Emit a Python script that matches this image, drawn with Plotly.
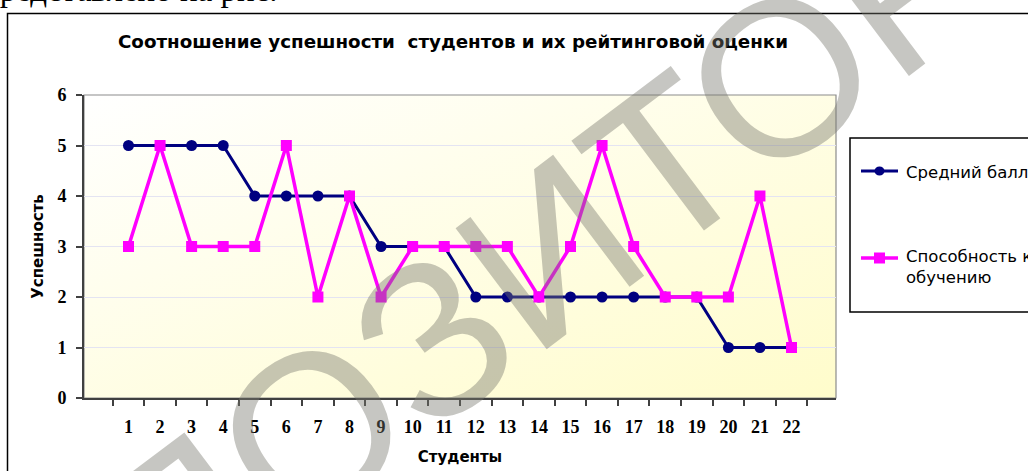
import base64
import plotly.graph_objects as go

# ---- data ----
students = ["1", "2", "3", "4", "5", "6", "7", "8", "9", "10", "11",
            "12", "13", "14", "15", "16", "17", "18", "19", "20", "21", "22"]
avg_grade = [5, 5, 5, 5, 4, 4, 4, 4, 3, 3, 3, 2, 2, 2, 2, 2, 2, 2, 2, 1, 1, 1]
learning_ability = [3, 5, 3, 3, 3, 5, 2, 4, 2, 3, 3, 3, 3, 2, 3, 5, 3, 2, 2, 2, 4, 1]
series_names = ["Средний балл", "Способность к<br>обучению"]
y_ticks = [0, 1, 2, 3, 4, 5, 6]

title_text = "Соотношение успешности\u00a0 студентов и их рейтинговой оценки"
x_title = "Студенты"
y_title = "Успешность"
watermark = "РЕПОЗИТОРИЙ"
page_text = "представлено на рис."

# ---- layout geometry (pixels) ----
W, H = 1028, 471
L, R, T, B = 84, 836, 95, 398
PW, PH = R - L, B - T


def px(xp):
    return (xp - L) / PW


def py(yp):
    return (B - yp) / PH


NAVY = "#000080"
MAGENTA = "#FF00FF"
SANS_B = "DejaVu Sans, Arial"
SERIF = "Liberation Serif, Times New Roman"

fig = go.Figure()
fig.add_trace(go.Scatter(
    x=students, y=avg_grade, mode="lines+markers", name=series_names[0],
    line=dict(color=NAVY, width=3),
    marker=dict(symbol="circle", size=11, color=NAVY),
    showlegend=False,
))
fig.add_trace(go.Scatter(
    x=students, y=learning_ability, mode="lines+markers", name=series_names[1],
    line=dict(color=MAGENTA, width=3.5),
    marker=dict(symbol="square", size=11, color=MAGENTA),
    showlegend=False,
))

# gradient plot background as an SVG image
svg = ('<svg xmlns="http://www.w3.org/2000/svg" width="100" height="100" preserveAspectRatio="none">'
       '<defs><linearGradient id="g" x1="0" y1="0" x2="1" y2="1">'
       '<stop offset="0" stop-color="#FFFFFF"/><stop offset="1" stop-color="#FFFCCB"/>'
       '</linearGradient></defs><rect width="100" height="100" fill="url(#g)"/></svg>')
src = "data:image/svg+xml;base64," + base64.b64encode(svg.encode()).decode()

shapes = []
shapes.append(dict(type="rect", xref="paper", yref="paper", x0=0, x1=1, y0=0, y1=1,
                   line=dict(color="#8C8C8C", width=1.2), layer="below"))
# outer chart border
shapes.append(dict(type="rect", xref="paper", yref="paper",
                   x0=px(7.5), x1=px(1060), y0=py(500), y1=py(13.5),
                   line=dict(color="#000000", width=1.5)))
# legend box
shapes.append(dict(type="rect", xref="paper", yref="paper",
                   x0=px(850), x1=px(1060), y0=py(312), y1=py(138),
                   line=dict(color="#000000", width=1.5), fillcolor="white"))
# legend samples
for yy, col in [(171, NAVY), (258, MAGENTA)]:
    shapes.append(dict(type="line", xref="paper", yref="paper",
                       x0=px(861), x1=px(898), y0=py(yy), y1=py(yy),
                       line=dict(color=col, width=3 if col == NAVY else 3.5)))
shapes.append(dict(type="circle", xref="paper", yref="paper",
                   xsizemode="pixel", ysizemode="pixel",
                   xanchor=px(879.5), yanchor=py(171), x0=-5, x1=5, y0=-4.5, y1=4.5,
                   fillcolor=NAVY, line=dict(color=NAVY, width=0)))
shapes.append(dict(type="rect", xref="paper", yref="paper",
                   xsizemode="pixel", ysizemode="pixel",
                   xanchor=px(879.5), yanchor=py(258), x0=-5.5, x1=5.5, y0=-5.5, y1=5.5,
                   fillcolor=MAGENTA, line=dict(color=MAGENTA, width=0)))

annotations = [
    dict(text=series_names[0], xref="paper", yref="paper", x=px(904), y=py(172),
         xanchor="left", yanchor="middle", showarrow=False, align="left",
         font=dict(family="DejaVu Sans, Arial", size=16.5, color="black")),
    dict(text=series_names[1], xref="paper", yref="paper", x=px(904), y=py(267),
         xanchor="left", yanchor="middle", showarrow=False, align="left",
         font=dict(family="DejaVu Sans, Arial", size=16.5, color="black")),
    dict(text=page_text, xref="paper", yref="paper", x=px(280), y=py(10),
         xanchor="right", yanchor="bottom", showarrow=False,
         font=dict(family=SERIF, size=33, color="black")),
    dict(text=watermark, xref="paper", yref="paper", x=px(550), y=py(250),
         xanchor="center", yanchor="middle", showarrow=False, textangle=-37,
         font=dict(family="Liberation Sans, Arial", size=220, color="rgba(120,120,110,0.42)")),
]

fig.update_layout(
    width=W, height=H,
    margin=dict(l=L, r=W - R, t=T, b=H - B, pad=0),
    paper_bgcolor="white",
    plot_bgcolor="rgba(0,0,0,0)",
    showlegend=False,
    title=dict(text=title_text, x=453 / W, xanchor="center", xref="container",
               y=1 - 42 / H, yref="container", yanchor="middle",
               font=dict(family=SANS_B, size=18.3, color="black", weight="bold")),
    images=[dict(source=src, xref="paper", yref="paper", x=0, y=1, sizex=1, sizey=1,
                 xanchor="left", yanchor="top", sizing="stretch", layer="below")],
    shapes=shapes,
    annotations=annotations,
    xaxis=dict(
        type="category", tickson="boundaries", ticks="outside", ticklen=6,
        tickcolor="#404040", tickwidth=1.5, automargin=False,
        showline=True, linecolor="#404040", linewidth=1.5, mirror=False,
        showgrid=False, zeroline=False, ticklabelstandoff=12,
        tickfont=dict(family=SERIF, size=18, color="black", weight="bold"),
        title=dict(text=x_title, standoff=15,
                   font=dict(family=SANS_B, size=15, color="black", weight="bold")),
    ),
    yaxis=dict(
        range=[0, 6], tickvals=y_ticks, ticks="outside", ticklen=6,
        tickcolor="#404040", tickwidth=1.5, automargin=False,
        showline=True, linecolor="#404040", linewidth=2,
        showgrid=True, gridcolor="#E4E4F2", gridwidth=1, zeroline=False,
        ticklabelstandoff=6,
        tickfont=dict(family=SERIF, size=18, color="black", weight="bold"),
        title=dict(text=y_title, standoff=10,
                   font=dict(family=SANS_B, size=15, color="black", weight="bold")),
    ),
)

fig.write_html("out.html", config={"displayModeBar": False},
               post_script="document.body.style.margin='0';")
